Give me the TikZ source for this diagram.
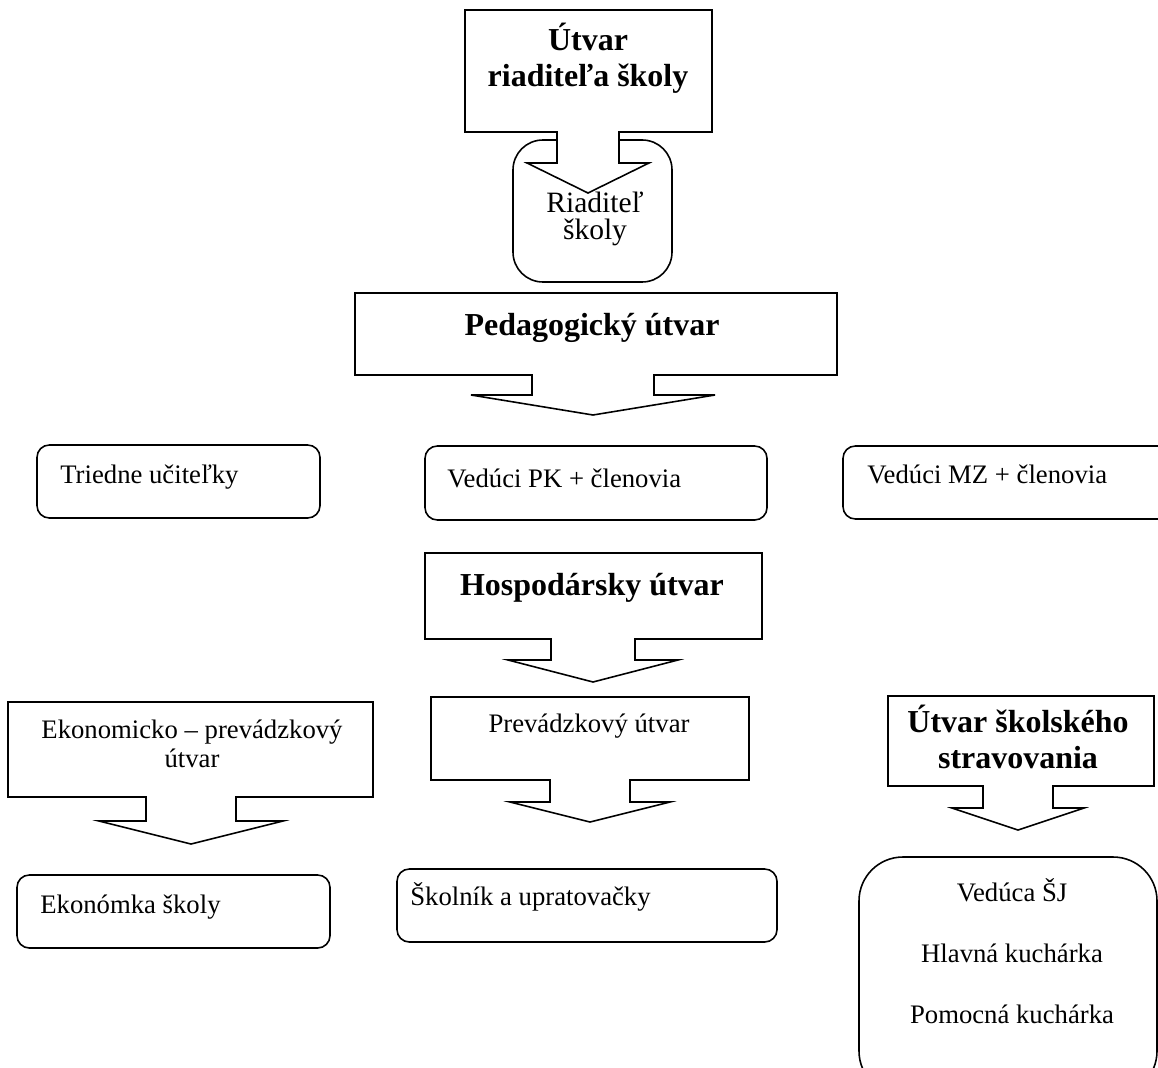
\documentclass[tikz,border=0pt]{standalone}
\usepackage{fontspec}
\setmainfont{Liberation Serif}
\usepackage{tikz}
\usetikzlibrary{positioning}

\tikzset{
  rbox/.style={draw,line width=0.9pt,rounded corners=7pt},
  abox/.style={draw,line width=0.9pt,fill=white,line join=miter},
  txt/.style={inner sep=0pt,align=center,font=\fontsize{15.2}{16.5}\selectfont},
  btxt/.style={inner sep=0pt,align=center,font=\fontsize{18.2}{21}\selectfont\bfseries}
}

% block arrow: left, right, top, bottom, tip x, stem half width, wing half width, stem bottom, tip y
\newcommand{\arrowbox}[9]{%
  \draw[abox] (#1,#3) -- (#2,#3) -- (#2,#4) -- ({#5+#6},#4) -- ({#5+#6},#8) -- ({#5+#7},#8)
    -- (#5,#9) -- ({#5-#7},#8) -- ({#5-#6},#8) -- ({#5-#6},#4) -- (#1,#4) -- cycle;}

\begin{document}
\begin{tikzpicture}[x=0.02cm,y=-0.02cm]
		\clip (0,0) rectangle (1158,1067);
		% rounded boxes
		\draw[rbox,rounded corners=17pt] (513,140) rectangle (672,282);
		\draw[rbox] (37,445) rectangle (320,518);
		\draw[rbox] (425,446) rectangle (767,520);
		\draw[rbox] (843,446) rectangle (1180,519);
		\draw[rbox] (17,875) rectangle (330,948);
		\draw[rbox] (397,869) rectangle (777,942);
		\draw[rbox,rounded corners=25pt] (859,857) rectangle (1157,1095);
		% block arrows
		\arrowbox{465}{712}{10}{132}{588}{31}{61}{163}{193}
		\arrowbox{355}{837}{293}{375}{593}{61}{122}{395}{415}
		\arrowbox{425}{762}{553}{639}{593}{42}{85}{660}{682}
		\arrowbox{431}{749}{697}{780}{590}{40}{80}{802}{822}
		\arrowbox{8}{373}{702}{797}{191}{45}{92}{821}{844}
		\arrowbox{888}{1154}{696}{786}{1018}{35}{66}{808}{830}
		% texts (anchor base = last line)
		\node(riad) [btxt,anchor=base] at (588,87) {Útvar\\riaditeľa školy};
		\node(riadsk) [txt,anchor=base,font=\fontsize{16.8}{15.4}\selectfont] at (595,240) {Riaditeľ\\školy};
		\node(ped) [btxt,anchor=base] at (592,335) {Pedagogický útvar};
		\node(tried) [txt,anchor=base west] at (60,483) {Triedne učiteľky};
		\node(pk) [txt,anchor=base west] at (447,487) {Vedúci PK + členovia};
		\node(mz) [txt,anchor=base west] at (867,483) {Vedúci MZ + členovia};
		\node(hosp) [btxt,anchor=base] at (592,595) {Hospodársky útvar};
		\node(ekon) [txt,anchor=base] at (192,767) {Ekonomicko – prevádzkový\\útvar};
		\node(prev) [txt,anchor=base] at (589,732) {Prevádzkový útvar};
		\node(strav) [btxt,anchor=base,font=\fontsize{18.2}{20}\selectfont\bfseries] at (1018,768) {Útvar školského\\stravovania};
		\node(ekonomka) [txt,anchor=base west] at (40,913) {Ekonómka školy};
		\node(skolnik) [txt,anchor=base west] at (410,905) {Školník a upratovačky};
		\node(vsj) [txt,anchor=base] at (1012,901) {Vedúca ŠJ};
		\node(hlk) [txt,anchor=base] at (1012,962) {Hlavná kuchárka};
		\node(pok) [txt,anchor=base] at (1012,1023) {Pomocná kuchárka};
	\end{tikzpicture}
\end{document}
